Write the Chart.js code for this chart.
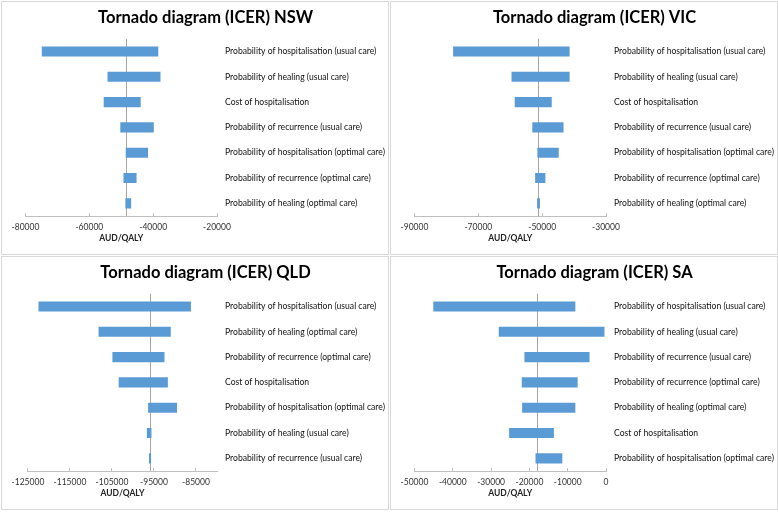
<!DOCTYPE html>
<html>
<head>
<meta charset="utf-8">
<script src="https://cdn.jsdelivr.net/npm/chart.js@4.4.1/dist/chart.umd.min.js"></script>
<style>
    html, body { margin: 0; padding: 0; background: #fff; }
    .panel { position: absolute; width: 386px; height: 252px; border: 1px solid #d9d9d9; }
    .panel canvas { display: block; }
</style>
</head>
<body>
<div class="panel" style="left:1px;top:1px"><canvas id="chart-nsw" width="386" height="252"></canvas></div>
<div class="panel" style="left:390px;top:1px"><canvas id="chart-vic" width="386" height="252"></canvas></div>
<div class="panel" style="left:1px;top:256px"><canvas id="chart-qld" width="386" height="252"></canvas></div>
<div class="panel" style="left:390px;top:256px"><canvas id="chart-sa" width="386" height="252"></canvas></div>

<script>
'use strict';

// ── Data (AUD/QALY) ──────────────────────────────────────────────────────
var nswLabels = [
    'Probability of hospitalisation (usual care)',
    'Probability of healing (usual care)',
    'Cost of hospitalisation',
    'Probability of recurrence (usual care)',
    'Probability of hospitalisation (optimal care)',
    'Probability of recurrence (optimal care)',
    'Probability of healing (optimal care)'
];
var nswLow   = [-74900, -54300, -55500, -50300, -48600, -49300, -48700];
var nswHigh  = [-38400, -37700, -43900, -39800, -41600, -45200, -46900];
var nswBase  = -48400;
var nswRange = [-80000, -20000];
var nswTicks = [-80000, -60000, -40000, -20000];

var vicLabels = nswLabels;
var vicLow   = [-77900, -59600, -58600, -53100, -51500, -52200, -51600];
var vicHigh  = [-41400, -41400, -47000, -43300, -44800, -49000, -50700];
var vicBase  = -51300;
var vicRange = [-90000, -30000];
var vicTicks = [-90000, -70000, -50000, -30000];

var qldLabels = [
    'Probability of hospitalisation (usual care)',
    'Probability of healing (optimal care)',
    'Probability of recurrence (optimal care)',
    'Cost of hospitalisation',
    'Probability of hospitalisation (optimal care)',
    'Probability of healing (usual care)',
    'Probability of recurrence (usual care)'
];
var qldLow   = [-122500, -108200, -104900, -103400, -96400, -96700, -96200];
var qldHigh  = [-86200, -91000, -92500, -91700, -89500, -95600, -95700];
var qldBase  = -96000;
var qldRange = [-125000, -80000];
var qldTicks = [-125000, -115000, -105000, -95000, -85000];

var saLabels = [
    'Probability of hospitalisation (usual care)',
    'Probability of healing (usual care)',
    'Probability of recurrence (usual care)',
    'Probability of recurrence (optimal care)',
    'Probability of healing (optimal care)',
    'Cost of hospitalisation',
    'Probability of hospitalisation (optimal care)'
];
var saLow   = [-45100, -28000, -21300, -22000, -21900, -25300, -18400];
var saHigh  = [-8000, -400, -4300, -7400, -8000, -13600, -11400];
var saBase  = -17900;
var saRange = [-50000, 0];
var saTicks = [-50000, -40000, -30000, -20000, -10000, 0];

document.addEventListener('DOMContentLoaded', function () {
    var barColor  = '#5b9bd5';
    var axisColor = '#bfbfbf';

    Chart.defaults.font.family = 'Lato, "Open Sans", sans-serif';
    Chart.defaults.animation = false;

    // vertical line at the base-case ICER, drawn behind the bars
    var baseLine = {
        id: 'baseLine',
        beforeDatasetsDraw: function (chart, args, opts) {
            var x = Math.round(chart.scales.x.getPixelForValue(opts.value)) + 0.5;
            var ctx = chart.ctx;
            ctx.save();
            ctx.strokeStyle = '#a6a6a6';
            ctx.lineWidth = 1;
            ctx.beginPath();
            ctx.moveTo(x, chart.chartArea.top);
            ctx.lineTo(x, chart.chartArea.bottom);
            ctx.stroke();
            ctx.restore();
        }
    };

    function tornado(id, title, labels, low, high, base, range, tickVals) {
        var el = document.getElementById(id);
        if (!el) return;
        var ranges = low.map(function (v, i) { return [v, high[i]]; });

        new Chart(el, {
            type: 'bar',
            data: {
                labels: labels,
                datasets: [{
                    data: ranges,
                    backgroundColor: barColor,
                    categoryPercentage: 0.8,
                    barPercentage: 0.5
                }]
            },
            options: {
                indexAxis: 'y',
                responsive: false,
                layout: { padding: { left: 21, right: 0, top: 0, bottom: 11 } },
                plugins: {
                    legend: { display: false },
                    tooltip: { enabled: false },
                    title: {
                        display: true,
                        text: title,
                        color: '#000',
                        font: { size: 16.5, weight: 'bold' },
                        padding: { top: 6, bottom: 11 }
                    },
                    baseLine: { value: base }
                },
                scales: {
                    x: {
                        type: 'linear',
                        min: range[0],
                        max: range[1],
                        afterBuildTicks: function (scale) {
                            scale.ticks = tickVals.map(function (v) { return { value: v }; });
                        },
                        afterFit: function (scale) { scale.height = 27; },
                        grid: {
                            drawOnChartArea: false,
                            drawTicks: true,
                            tickLength: -3,
                            color: axisColor
                        },
                        border: { color: axisColor },
                        ticks: {
                            padding: 9.6,
                            color: '#333',
                            font: { size: 8.5 },
                            maxRotation: 0,
                            autoSkip: false,
                            callback: function (v) { return String(v); }
                        },
                        title: {
                            display: true,
                            text: 'AUD/QALY',
                            color: '#222',
                            font: { size: 8.5, weight: 'bold' },
                            padding: { top: 3, bottom: 0 }
                        }
                    },
                    y: {
                        position: 'right',
                        grid: { display: false, drawTicks: false },
                        border: { display: false },
                        ticks: {
                            padding: 8,
                            color: '#111',
                            font: { size: 8.6 }
                        },
                        afterFit: function (scale) { scale.width = 171; }
                    }
                }
            },
            plugins: [baseLine]
        });
    }

    tornado('chart-nsw', 'Tornado diagram (ICER) NSW', nswLabels, nswLow, nswHigh, nswBase, nswRange, nswTicks);
    tornado('chart-vic', 'Tornado diagram (ICER) VIC', vicLabels, vicLow, vicHigh, vicBase, vicRange, vicTicks);
    tornado('chart-qld', 'Tornado diagram (ICER) QLD', qldLabels, qldLow, qldHigh, qldBase, qldRange, qldTicks);
    tornado('chart-sa',  'Tornado diagram (ICER) SA',  saLabels,  saLow,  saHigh,  saBase,  saRange,  saTicks);
});
</script>
</body>
</html>
